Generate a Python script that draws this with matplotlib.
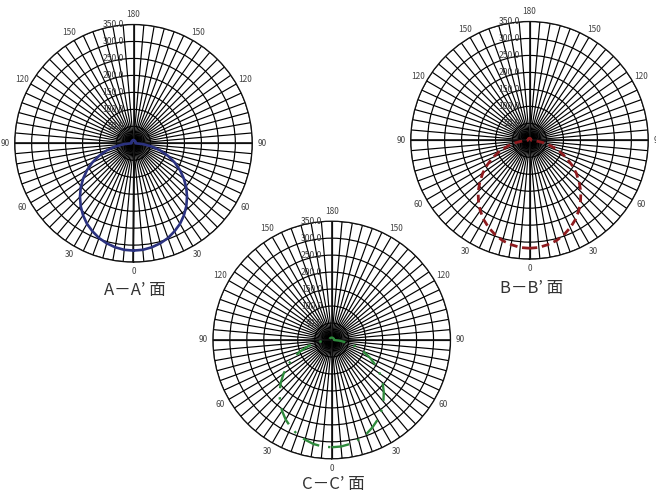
import matplotlib
matplotlib.use('Agg')
import matplotlib.pyplot as plt
import matplotlib.transforms as mtransforms
import numpy as np

plt.rcParams['font.family'] = ['Noto Sans CJK JP', 'DejaVu Sans']

# 角度 (0 = 真下, 5度刻み, 左右対称)
angles = list(range(0, 181, 5))

# 光度 [cd]
values_a = [316, 315, 311, 305, 297, 286, 274, 259, 242, 223, 203, 181, 158, 134, 108, 82, 55, 28,
            6, 6, 6, 6, 6, 6, 7, 7, 7, 7, 8, 8, 8, 8, 8, 9, 9, 9, 10]
values_b = [318, 317, 312, 306, 296, 284, 270, 253, 234, 214, 191, 168, 143, 118, 93, 67, 43, 19,
            5, 5, 5, 5, 5, 5, 5, 5, 5, 5, 5, 5, 5, 5, 6, 6, 6, 6, 6]
values_c = [316, 315, 311, 304, 296, 284, 271, 255, 237, 217, 196, 173, 150, 125, 99, 73, 48, 23,
            7, 7, 7, 7, 7, 7, 7, 7, 7, 7, 7, 7, 7, 7, 7, 7, 7, 7, 7]

r_ticks = [50, 100, 150, 200, 250, 300, 350]
r_labels = ['50.0', '100.0', '150.0', '200.0', '250.0', '300.0', '350.0']
angle_ticks = [0, 30, 60, 90, 120, 150, 180, 210, 240, 270, 300, 330]
angle_labels = ['0', '30', '60', '90', '120', '150', '180', '150', '120', '90', '60', '30']

titles = ['A－A’ 面', 'B－B’ 面', 'C－C’ 面']


def full_curve(vals):
    th = angles + [360 - a for a in reversed(angles[:-1])]
    rr = vals + list(reversed(vals[:-1]))
    return np.deg2rad(th), np.array(rr)


def setup(ax):
    ax.set_theta_zero_location('S')
    ax.set_ylim(0, 350)
    ax.set_facecolor('none')
    ax.set_thetagrids(list(range(0, 360, 5)), [])
    ax.set_rgrids(r_ticks, labels=[''] * len(r_ticks))
    ax.grid(True, color='black', lw=0.85)
    ax.spines['polar'].set_color('#111111')
    ax.spines['polar'].set_linewidth(0.9)
    # 主軸を少し太く
    for a in [0, 90, 180, 270]:
        ax.plot([np.deg2rad(a), np.deg2rad(a)], [0, 350], color='#111111', lw=1.2, zorder=1.6)
    # 角度ラベル (外周の少し外側)
    for a, lab in zip(angle_ticks, angle_labels):
        ax.text(np.deg2rad(a), 350 * 128.5 / 118.8, lab, ha='center', va='center',
                fontsize=6, color='#444444', clip_on=False)
    offset = mtransforms.ScaledTranslation(-9.5 / 100, 0, ax.figure.dpi_scale_trans)
    for r, lab in zip(r_ticks, r_labels):
        ax.text(np.pi, r, lab, ha='right', va='center', fontsize=6.2, color='#3a3a3a',
                transform=ax.transData + offset, zorder=3)


fig = plt.figure(figsize=(6.56, 4.92), dpi=100)

W, H = 656, 492
R = 118.8
centers = [(133.5, 143.3), (529.5, 140.3), (331.7, 340.0)]
title_pos = [(135, 290), (532, 288), (333, 484)]

axes = []
for (cx, cy) in centers:
    ax = fig.add_axes([(cx - R) / W, (H - cy - R) / H, 2 * R / W, 2 * R / H], projection='polar')
    setup(ax)
    axes.append(ax)

th, rr = full_curve(values_a)
axes[0].plot(th, rr, color='#2b3280', lw=1.9, zorder=4)

th, rr = full_curve(values_b)
axes[1].plot(th, rr, color='#8e1b1f', lw=2.0, dashes=(2.8, 1.7), zorder=4)

th, rr = full_curve(values_c)
axes[2].plot(th, rr, color='#2e8b3c', lw=1.7, dashes=(7.5, 3.8, 1, 3.8), zorder=4)

for (tx, ty), t in zip(title_pos, titles):
    fig.text(tx / W, (H - ty) / H, t, ha='center', va='center', fontsize=12, color='#333333')

fig.savefig('out.png', dpi=100)
